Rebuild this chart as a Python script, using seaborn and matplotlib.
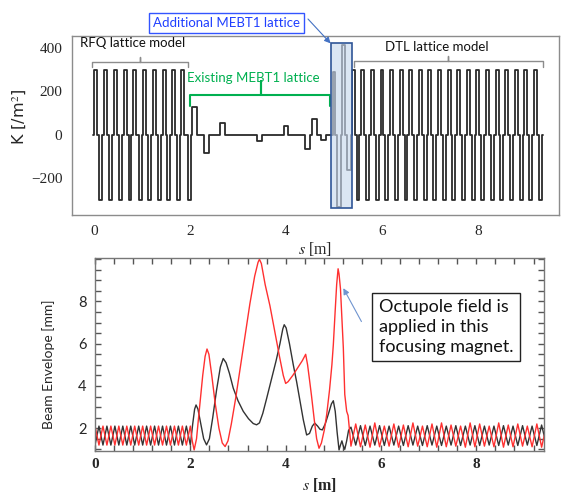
import numpy as np
import pandas as pd
import matplotlib
matplotlib.use("Agg")
import matplotlib.pyplot as plt
from matplotlib.patches import Rectangle
from matplotlib.ticker import MultipleLocator, FixedLocator
import seaborn as sns

# ---------------- lattice (top panel): pulse centre, width, strength K ----------------
rfq_centers = [0.035, 0.14, 0.24, 0.35, 0.45, 0.55, 0.65, 0.75, 0.85, 0.96,
               1.06, 1.16, 1.26, 1.36, 1.46, 1.56, 1.65, 1.76, 1.85, 1.98]
rfq_k = [300, -300, 300, -300, 300, -300, 300, -300, 300, -300,
         300, -300, 300, -300, 300, -300, 300, -300, 300, -300]

mebt_centers = [2.10, 2.345, 2.68, 3.455, 4.00, 4.445, 4.60, 4.78]
mebt_widths = [0.10, 0.11, 0.10, 0.11, 0.10, 0.09, 0.10, 0.10]
mebt_k = [130, -85, 55, -30, 40, -65, 75, -25]

add_centers = [5.00, 5.105, 5.205, 5.315]
add_k = [290, -330, 414, -162]

dtl_centers = [5.40, 5.50, 5.60, 5.70, 5.80, 5.90, 6.00, 6.10, 6.20, 6.30,
               6.40, 6.50, 6.60, 6.70, 6.80, 6.90, 7.00, 7.10, 7.20, 7.30,
               7.40, 7.50, 7.60, 7.70, 7.80, 7.90, 8.00, 8.10, 8.20, 8.30,
               8.40, 8.50, 8.60, 8.70, 8.80, 8.90, 9.00, 9.10, 9.20, 9.30]
dtl_k = [300, -300, 300, -300, 300, -300, 300, -300, 300, -300,
         300, -300, 300, -300, 300, -300, 300, -300, 300, -300,
         300, -300, 300, -300, 300, -300, 300, -300, 300, -300,
         300, -300, 300, -300, 300, -300, 300, -300, 300, -300]

# ---------------- beam envelope (bottom panel) ----------------
rfq_s = [0.0, 0.083, 0.167, 0.25, 0.333, 0.417, 0.5, 0.583, 0.667, 0.75, 0.833, 0.917,
         1.0, 1.083, 1.167, 1.25, 1.333, 1.417, 1.5, 1.583, 1.667, 1.75, 1.833, 1.917, 2.0]
rfq_black = [1.2, 2.1, 1.2, 2.1, 1.2, 2.1, 1.2, 2.1, 1.2, 2.1, 1.2, 2.1,
             1.2, 2.1, 1.2, 2.1, 1.2, 2.1, 1.2, 2.1, 1.2, 2.1, 1.2, 2.1, 1.2]
rfq_red = [2.1, 1.2, 2.1, 1.2, 2.1, 1.2, 2.1, 1.2, 2.1, 1.2, 2.1, 1.2,
           2.1, 1.2, 2.1, 1.2, 2.1, 1.2, 2.1, 1.2, 2.1, 1.2, 2.1, 1.2, 2.1]

mebt_black_s = [2.05, 2.09, 2.12, 2.16, 2.22, 2.28, 2.34, 2.40, 2.47, 2.55, 2.63, 2.69,
                2.75, 2.82, 2.90, 3.00, 3.11, 3.22, 3.32, 3.39, 3.45, 3.52, 3.60, 3.70,
                3.80, 3.88, 3.94, 3.97, 4.01, 4.08, 4.16, 4.23, 4.30, 4.37, 4.44, 4.50,
                4.56, 4.61, 4.67, 4.72, 4.77, 4.83, 4.90, 4.96, 5.00, 5.04, 5.08, 5.12,
                5.15, 5.18, 5.21, 5.24, 5.28, 5.32]
mebt_black = [2.2, 2.9, 3.1, 2.9, 2.2, 1.5, 1.21, 1.5, 2.5, 3.8, 4.9, 5.3,
              5.1, 4.6, 3.9, 3.3, 2.8, 2.45, 2.22, 2.16, 2.25, 2.7, 3.4, 4.3,
              5.2, 6.0, 6.7, 6.9, 6.75, 6.0, 5.0, 4.2, 3.3, 2.4, 1.68, 1.75,
              2.1, 2.24, 2.1, 1.95, 1.92, 2.2, 2.7, 3.15, 3.3, 2.8, 1.8, 0.97,
              1.2, 1.4, 1.15, 1.0, 1.4, 1.9]

mebt_red_s = [2.04, 2.08, 2.13, 2.19, 2.26, 2.31, 2.35, 2.39, 2.45, 2.52, 2.60, 2.67,
              2.73, 2.79, 2.86, 2.95, 3.05, 3.15, 3.25, 3.35, 3.42, 3.45, 3.49, 3.57,
              3.67, 3.77, 3.87, 3.95, 4.00, 4.05, 4.15, 4.25, 4.35, 4.42, 4.46, 4.50,
              4.54, 4.60, 4.65, 4.70, 4.75, 4.81, 4.86, 4.92, 4.97, 5.00, 5.04, 5.07,
              5.10, 5.12, 5.15, 5.18, 5.21, 5.24, 5.28, 5.31, 5.34]
mebt_red = [1.4, 0.97, 1.5, 2.9, 4.5, 5.4, 5.75, 5.5, 4.5, 3.2, 2.0, 1.3,
            1.13, 1.4, 2.2, 3.4, 4.9, 6.4, 7.9, 9.2, 9.85, 10.0, 9.8, 8.8,
            7.8, 6.6, 5.4, 4.5, 4.12, 4.2, 4.5, 4.85, 5.2, 5.5, 5.0, 4.3,
            3.58, 2.4, 1.5, 1.05, 1.3, 1.9, 2.63, 3.8, 5.0, 5.95, 7.6, 8.8,
            9.55, 9.3, 8.6, 7.2, 5.8, 3.6, 2.8, 2.6, 1.9]

dtl_s = [5.37, 5.47, 5.57, 5.67, 5.77, 5.87, 5.97, 6.07, 6.17, 6.27, 6.37, 6.47, 6.57, 6.67,
         6.77, 6.87, 6.97, 7.07, 7.17, 7.27, 7.37, 7.47, 7.57, 7.67, 7.77, 7.87, 7.97, 8.07,
         8.17, 8.27, 8.37, 8.47, 8.57, 8.67, 8.77, 8.87, 8.97, 9.07, 9.17, 9.27, 9.37, 9.47]
dtl_black = [2.05, 1.2, 2.12, 1.18, 2.1, 1.2, 2.12, 1.18, 2.1, 1.2, 2.1, 1.18, 2.12, 1.2,
             2.1, 1.18, 2.12, 1.2, 2.1, 1.18, 2.1, 1.2, 2.12, 1.18, 2.1, 1.2, 2.12, 1.18,
             2.1, 1.2, 2.1, 1.18, 2.12, 1.2, 2.1, 1.18, 2.12, 1.2, 2.1, 1.18, 2.15, 1.2]
dtl_red = [1.15, 2.2, 1.12, 2.15, 1.1, 2.25, 1.12, 2.1, 1.15, 2.2, 1.1, 2.15, 1.12, 2.25,
           1.15, 2.1, 1.12, 2.2, 1.1, 2.25, 1.12, 2.15, 1.15, 2.1, 1.1, 2.25, 1.12, 2.2,
           1.15, 2.1, 1.12, 2.25, 1.1, 2.15, 1.12, 2.2, 1.15, 2.1, 1.12, 2.2, 1.1, 2.1]

# ---------------- helpers ----------------
def k_profile(centers, widths, ks):
    s, k = [centers[0] - widths[0] / 2 - 0.03], [0]
    for c, w, kk in zip(centers, widths, ks):
        s += [c - w / 2, c - w / 2, c + w / 2, c + w / 2]
        k += [0, kk, kk, 0]
    s.append(s[-1] + 0.03)
    k.append(0)
    return s, k

all_c = rfq_centers + mebt_centers + add_centers + dtl_centers
all_w = [0.06] * len(rfq_centers) + mebt_widths + [0.06, 0.07, 0.07, 0.07] + [0.06] * len(dtl_centers)
all_k = rfq_k + mebt_k + add_k + dtl_k
lat_s, lat_k = k_profile(all_c, all_w, all_k)
lattice = pd.DataFrame({"s": lat_s, "K": lat_k})

black = pd.DataFrame({"s": rfq_s + mebt_black_s + dtl_s, "env": rfq_black + mebt_black + dtl_black})
red = pd.DataFrame({"s": rfq_s + mebt_red_s + dtl_s, "env": rfq_red + mebt_red + dtl_red})

# ---------------- figure ----------------
sns.set_style("white")
plt.rcParams["font.family"] = ["Lato", "DejaVu Sans"]
plt.rcParams["mathtext.fontset"] = "stix"

W, H = 563, 493
fig = plt.figure(figsize=(W / 100, H / 100), dpi=100)

def px_axes(x0, y0, x1, y1):
    return fig.add_axes([x0 / W, 1 - y1 / H, (x1 - x0) / W, (y1 - y0) / H])

serif = "Liberation Serif"

# ---- top panel ----
ax1 = px_axes(72, 36, 559, 215)
sns.lineplot(data=lattice, x="s", y="K", sort=False, estimator=None,
             color="#2a2a2a", lw=1.3, ax=ax1)
ax1.set_xlim(-0.46, 9.69)
ax1.set_ylim(-368, 455)
ax1.set_xticks([0, 2, 4, 6, 8])
ax1.set_yticks([-200, 0, 200, 400])
for sp in ax1.spines.values():
    sp.set_color("#8c8c8c")
    sp.set_linewidth(1.0)
ax1.tick_params(direction="out", length=4, width=1, color="#8c8c8c",
                labelsize=11, pad=3)
for lab in ax1.get_xticklabels() + ax1.get_yticklabels():
    lab.set_fontfamily(serif)
ax1.set_xlabel(r"$s$ [m]", fontsize=11.5, fontfamily=serif, labelpad=2)
ax1.set_ylabel(r"K [/m$^2$]", fontsize=11.5, fontfamily="DejaVu Sans", labelpad=2)
ax1.yaxis.set_label_coords(-0.088, 0.55)

# highlighted additional MEBT1 region
ax1.add_patch(Rectangle((4.93, -337), 0.44, 758, facecolor="#c9d9ee", alpha=0.65,
                        edgecolor="none", zorder=3))
ax1.add_patch(Rectangle((4.93, -337), 0.44, 758, facecolor="none",
                        edgecolor="#2f5597", lw=1.2, zorder=4))

def bracket(ax, x0, x1, xc, y_end, y_main, y_tip, color, lw):
    ax.plot([x0, x0, xc, xc, xc, x1, x1],
            [y_end, y_main, y_main, y_tip, y_main, y_main, y_end],
            color=color, lw=lw, solid_joinstyle="round", clip_on=False)

bracket(ax1, -0.04, 1.96, 0.96, 313, 336, 359, "#8c8c8c", 1.0)
bracket(ax1, 5.42, 9.35, 7.37, 314, 340, 363, "#8c8c8c", 1.0)
bracket(ax1, 2.0, 4.92, 3.48, 133, 184, 248, "#00b050", 1.5)

ax1.text(0.80, 422, "RFQ lattice model", fontsize=9.5, ha="center", va="center", color="#111111")
ax1.text(7.15, 405, "DTL lattice model", fontsize=9.5, ha="center", va="center", color="#111111")
ax1.text(3.32, 261, "Existing MEBT1 lattice", fontsize=9.5, ha="center", va="center", color="#00b050")

fig.text(226.5 / W, 1 - 23 / H, "Additional MEBT1 lattice", fontsize=9.5, color="#1f3fff",
         ha="center", va="center",
         bbox=dict(boxstyle="square,pad=0.3", facecolor="white", edgecolor="#3355ff", lw=1))
ax1.annotate("", xy=(4.93, 421), xycoords="data",
             xytext=(308 / W, 1 - 19 / H), textcoords="figure fraction",
             arrowprops=dict(arrowstyle="-|>", color="#4472c4", lw=0.8,
                             mutation_scale=9, shrinkA=0, shrinkB=0),
             annotation_clip=False)

# ---- bottom panel ----
ax2 = px_axes(95, 258, 544, 451)
sns.lineplot(data=black, x="s", y="env", sort=False, estimator=None,
             color="#333333", lw=1.0, ax=ax2)
sns.lineplot(data=red, x="s", y="env", sort=False, estimator=None,
             color="#ff3030", lw=1.0, ax=ax2)
ax2.set_xlim(0, 9.42)
ax2.set_ylim(0.92, 10.06)
ax2.xaxis.set_major_locator(FixedLocator([0, 2, 4, 6, 8]))
ax2.xaxis.set_minor_locator(MultipleLocator(0.4))
ax2.yaxis.set_major_locator(FixedLocator([2, 4, 6, 8]))
ax2.yaxis.set_minor_locator(MultipleLocator(0.5))
for sp in ax2.spines.values():
    sp.set_color("#777777")
    sp.set_linewidth(1.0)
ax2.tick_params(which="both", direction="in", length=4, width=1, color="#555555",
                top=True, right=True, bottom=True, left=True)
ax2.tick_params(axis="x", labelsize=11, pad=5)
ax2.tick_params(axis="y", labelsize=10.5, pad=6)
for lab in ax2.get_xticklabels():
    lab.set_fontfamily(serif)
    lab.set_fontweight("bold")
ax2.set_xlabel(r"$s$ [m]", fontsize=11.5, fontfamily=serif, fontweight="bold", labelpad=4)
ax2.set_ylabel("Beam Envelope [mm]", fontsize=10, labelpad=4)
ax2.yaxis.set_label_coords(-0.088, 0.45)

ax2.text(446 / W, 1 - 327 / H, "Octupole field is\napplied in this\nfocusing magnet.",
         transform=fig.transFigure, fontsize=13, ha="center", va="center",
         multialignment="left", linespacing=1.3, color="#111111",
         bbox=dict(boxstyle="square,pad=0.35", facecolor="white", edgecolor="#222222", lw=1),
         zorder=6)
ax2.annotate("", xy=(5.21, 8.63), xytext=(5.59, 7.05),
             arrowprops=dict(arrowstyle="-|>", color="#6f94cf", lw=0.8,
                             mutation_scale=9, shrinkA=0, shrinkB=0), zorder=5)

fig.savefig("out.png", dpi=100)
